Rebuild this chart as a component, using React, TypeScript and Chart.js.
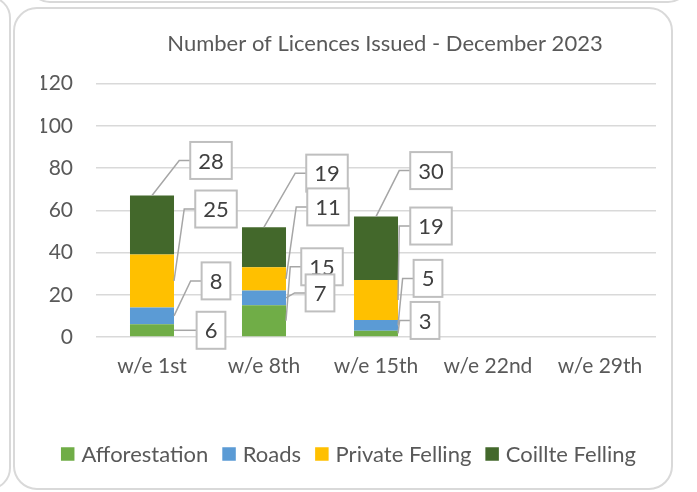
import React, { useEffect, useRef } from "react";
import { Chart, registerables } from "chart.js";

Chart.register(...registerables);

// ---- data ----
const categories = ["w/e 1st", "w/e 8th", "w/e 15th", "w/e 22nd", "w/e 29th"];
const afforestation = [6, 15, 3, null, null];
const roads = [8, 7, 5, null, null];
const privateFelling = [25, 11, 19, null, null];
const coillteFelling = [28, 19, 30, null, null];
const seriesNames = ["Afforestation", "Roads", "Private Felling", "Coillte Felling"];
const yMin = 0;
const yMax = 120;
const yStep = 20;
const titleText = "Number of Licences Issued - December 2023";

// ---- styles / positions ----
const seriesColors = ["#70AD47", "#5B9BD5", "#FFC000", "#43682B"];
// offset of each callout box centre from its anchor point (px)
const labelOffsets: number[][][] = [
  [[37, 0], [36, -54], [27, -13]],
  [[42, -35], [34, -5], [30, -47]],
  [[42, -72], [42, -72], [33, -74]],
  [[59, -35], [63, -54], [55, -46]],
];
const drawOrder = [3, 0, 1, 2];
const FONT = "Lato, 'Open Sans', sans-serif";
const textColor = "#595959";

const calloutPlugin = {
  id: "callouts",
  afterDatasetsDraw(chart: any) {
    const ctx = chart.ctx as CanvasRenderingContext2D;
    ctx.save();
    ctx.font = `22px ${FONT}`;
    ctx.textAlign = "center";
    ctx.textBaseline = "middle";
    for (const ds of drawOrder) {
      const meta = chart.getDatasetMeta(ds);
      const data = chart.data.datasets[ds].data;
      meta.data.forEach((bar: any, i: number) => {
        const v = data[i];
        if (v == null) return;
        const p = bar.getProps(["x", "y", "base", "width"], true);
        let ax: number, ay: number;
        if (ds === 3) {
          ax = p.x;
          ay = p.y;
        } else {
          ax = p.x + p.width / 2;
          ay = (p.y + p.base) / 2;
        }
        const off = labelOffsets[ds][i];
        const cx = ax + off[0];
        const cy = ay + off[1];
        const text = String(v);
        const w = ctx.measureText(text).width + 16;
        const h = 37;
        const left = cx - w / 2;
        ctx.beginPath();
        ctx.moveTo(ax, ay);
        ctx.lineTo(left - 11, cy);
        ctx.lineTo(left, cy);
        ctx.strokeStyle = "#a6a6a6";
        ctx.lineWidth = 1.5;
        ctx.stroke();
        ctx.fillStyle = "#ffffff";
        ctx.fillRect(left, cy - h / 2, w, h);
        ctx.strokeStyle = "#bfbfbf";
        ctx.lineWidth = 2;
        ctx.strokeRect(left, cy - h / 2, w, h);
        ctx.fillStyle = "#404040";
        ctx.fillText(text, cx, cy + 1);
      });
    }

    // title
    ctx.font = `22px ${FONT}`;
    ctx.fillStyle = textColor;
    ctx.fillText(titleText, 385, 44);

    // legend
    const box = 13.5;
    const gapBoxText = 7;
    const gapItems = 14;
    const items = chart.data.datasets.map((d: any) => ({
      label: d.label as string,
      color: d.backgroundColor as string,
      w: ctx.measureText(d.label).width,
    }));
    const total =
      items.reduce((s: number, it: any) => s + box + gapBoxText + it.w, 0) + gapItems * (items.length - 1);
    let x = 348.5 - total / 2;
    const ly = 454;
    ctx.textAlign = "left";
    for (const it of items) {
      ctx.fillStyle = it.color;
      ctx.fillRect(x, ly - box / 2, box, box);
      x += box + gapBoxText;
      ctx.fillStyle = textColor;
      ctx.fillText(it.label, x, ly + 1);
      x += it.w + gapItems;
    }
    ctx.restore();
  },
};

const frameStyle: React.CSSProperties = {
  position: "absolute",
  boxSizing: "border-box",
  border: "2px solid #d9d9d9",
  borderRadius: 22,
  background: "transparent",
};

export default function App() {
  const ref = useRef<HTMLCanvasElement>(null);
  useEffect(() => {
    const canvas = ref.current!;
    const tickFont = { family: FONT, size: 21 };
    const chart = new Chart(canvas, {
      type: "bar",
      data: {
        labels: categories,
        datasets: [afforestation, roads, privateFelling, coillteFelling].map((d, k) => ({
          label: seriesNames[k],
          data: d,
          backgroundColor: seriesColors[k],
          borderWidth: 0,
          categoryPercentage: 1,
          barPercentage: 0.393,
        })),
      },
      options: {
        responsive: false,
        animation: false,
        layout: { padding: { top: 83.5, bottom: 95, left: 41, right: 41 } },
        scales: {
          x: {
            stacked: true,
            grid: { display: false, drawTicks: false },
            border: { display: false },
            ticks: { color: textColor, font: tickFont, padding: 17 },
            afterFit: (s: any) => {
              s.height = 60;
            },
          },
          y: {
            stacked: true,
            min: yMin,
            max: yMax,
            ticks: { stepSize: yStep, color: textColor, font: tickFont, padding: 23 },
            grid: { color: "#d9d9d9", lineWidth: 1.5, drawTicks: false },
            border: { display: false },
            afterFit: (s: any) => {
              s.width = 55;
            },
          },
        },
        plugins: {
          legend: { display: false },
          title: { display: false },
          tooltip: { enabled: false },
        },
      } as any,
      plugins: [calloutPlugin],
    });
    return () => chart.destroy();
  }, []);

  return (
    <div style={{ position: "fixed", left: 0, top: 0, width: 697, height: 492, background: "#fff", overflow: "hidden" }}>
      <div style={{ ...frameStyle, left: 28, top: -100, width: 662, height: 103 }} />
      <div style={{ ...frameStyle, left: -300, top: -4, width: 311, height: 494 }} />
      <div style={{ ...frameStyle, left: 13, top: 7, width: 660, height: 483, borderRadius: 24 }} />
      <canvas ref={ref} width={697} height={492} style={{ position: "absolute", left: 0, top: 0, width: 697, height: 492 }} />
    </div>
  );
}
